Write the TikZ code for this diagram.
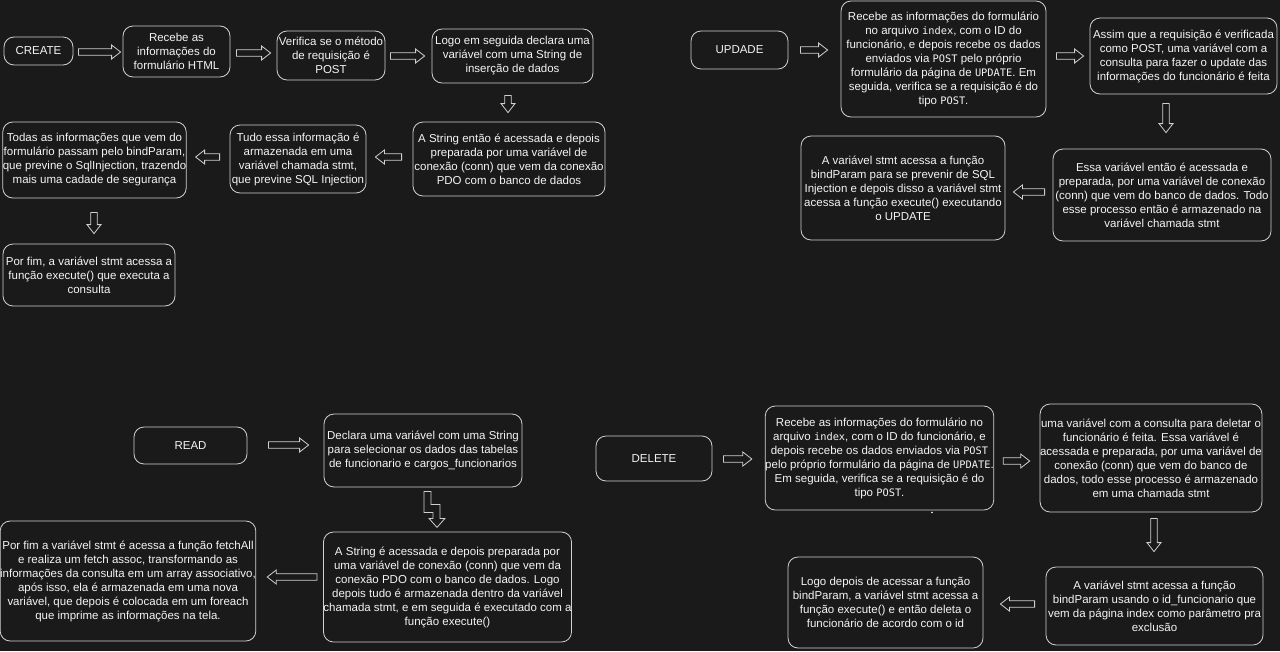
\documentclass[tikz,border=0pt]{standalone}
\usepackage{fontspec}
\setmainfont{Liberation Sans}
\newfontfamily\monof{DejaVu Sans Mono}[Scale=0.9]
\usetikzlibrary{calc}
\definecolor{bgc}{HTML}{1A1A1A}
\definecolor{fgc}{HTML}{F4F4F4}
\definecolor{edgec}{HTML}{D2D2D2}
\definecolor{arrc}{HTML}{CFCFCF}
\newcommand\mytt[1]{{\monof #1}}
\newcommand\bx[6]{\node[box, minimum width={#4-#2}, minimum height={#5-#3}] (#1) at ({(#2+#4)/2},{(#3+#5)/2}) {#6};}
\tikzset{
  box/.style={draw=edgec, line width=0.8pt, rounded corners=10pt, text=fgc, align=center, inner sep=0pt},
  blkline/.style={draw=arrc, line width=0.8pt, line join=miter},
  blk/.style={blkline, to path={
    let \p1=(\tikztostart), \p2=(\tikztotarget),
        \n1={atan2(\y2-\y1,\x2-\x1)}, \n2={veclen(\x2-\x1,\y2-\y1)} in
    ($(\p1)+({\n1+90}:3.3pt)$)
    -- ($(\p1)+(\n1:{\n2-9pt})+({\n1+90}:3.3pt)$)
    -- ($(\p1)+(\n1:{\n2-9pt})+({\n1+90}:7pt)$)
    -- (\p2)
    -- ($(\p1)+(\n1:{\n2-9pt})+({\n1-90}:7pt)$)
    -- ($(\p1)+(\n1:{\n2-9pt})+({\n1-90}:3.3pt)$)
    -- ($(\p1)+({\n1-90}:3.3pt)$) -- cycle}}
}
\begin{document}
\begin{tikzpicture}[x=1pt,y=-1pt,font=\fontsize{11.5}{14}\selectfont]
\fill[bgc] (0,0) rectangle (1280,651);
\useasboundingbox (0,0) rectangle (1280,651);

% CREATE
\bx{create}{4}{37}{73}{65}{CREATE}
\bx{recebe}{123}{26}{230}{77}{Recebe as\\informações do\\formulário HTML}
\bx{verifica}{277}{31}{385}{80}{Verifica se o método\\de requisição é\\POST}
\bx{logo}{432}{29}{593}{83}{Logo em seguida declara uma\\variável com uma String de\\inserção de dados}
\bx{astr}{413}{122}{605}{196}{A String então é acessada e depois\\preparada por uma variável de\\conexão (conn) que vem da conexão\\PDO com o banco de dados}
\bx{tudo}{230}{125}{366}{193}{Tudo essa informação é\\armazenada em uma\\variável chamada stmt,\\que previne SQL Injection}
\bx{todas}{3}{122}{186}{198}{Todas as informações que vem do\\formulário passam pelo bindParam,\\que previne o SqlInjection, trazendo\\mais uma cadade de segurança}
\bx{porfim}{3}{244}{175}{306}{Por fim, a variável stmt acessa a\\função execute() que executa a\\consulta}

\draw[blk] ($(create.east)+(5,1)$) to ($(recebe.west)+(-2,0.5)$);
\draw[blk] ($(recebe.east)+(6,1.5)$) to ($(verifica.west)+(-6,-2.5)$);
\draw[blk] ($(verifica.east)+(5,0.5)$) to ($(logo.west)+(-7,0)$);
\draw[blk] ($(logo.south)+(-4.5,12)$) to ($(astr.north)+(-1,-9)$);
\draw[blk] ($(astr.west)+(-11,-2)$) to ($(tudo.east)+(9,-2)$);
\draw[blk] ($(tudo.west)+(-10,-2)$) to ($(todas.east)+(9,-3)$);
\draw[blk] ($(todas.south)+(-0.5,14)$) to ($(porfim.north)+(5,-10)$);

% UPDATE
\bx{update}{691}{31}{788}{69}{UPDADE}
\bx{urecebe}{841}{1}{1046}{117}{Recebe as informações do formulário\\no arquivo \mytt{index}, com o ID do\\funcionário, e depois recebe os dados\\enviados via \mytt{POST} pelo próprio\\formulário da página de \mytt{UPDATE}. Em\\seguida, verifica se a requisição é do\\tipo \mytt{POST}.}
\bx{assim}{1090}{18}{1277}{94}{Assim que a requisição é verificada\\como POST, uma variável com a\\consulta para fazer o update das\\informações do funcionário é feita}
\bx{essa}{1053}{149}{1271}{241}{Essa variável então é acessada e\\preparada, por uma variável de conexão\\(conn) que vem do banco de dados. Todo\\esse processo então é armazenado na\\variável chamada stmt}
\bx{avar}{801}{136}{1005}{240}{A variável stmt acessa a função\\bindParam para se prevenir de SQL\\Injection e depois disso a variável stmt\\acessa a função execute() executando\\o UPDATE}

\draw[blk] ($(update.east)+(12,0)$) to ($(urecebe.west)+(-13,-9)$);
\draw[blk] ($(urecebe.east)+(10,-3)$) to ($(assim.west)+(-6,0)$);
\draw[blk] ($(assim.south)+(-17.5,9)$) to ($(essa.north)+(4,-16)$);
\draw[blk] ($(essa.west)+(-8,-3)$) to ($(avar.east)+(8,4)$);

% READ
\bx{read}{134}{427}{247}{464}{READ}
\bx{declara}{324}{414}{522}{487}{Declara uma variável com uma String\\para selecionar os dados das tabelas\\de funcionario e cargos\_funcionarios}
\bx{rstr}{324}{532}{571}{642}{A String é acessada e depois preparada por\\uma variável de conexão (conn) que vem da\\conexão PDO com o banco de dados. Logo\\depois tudo é armazenada dentro da variável\\chamada stmt, e em seguida é executado com a\\função execute()}
\bx{rfim}{3}{521}{253}{641}{Por fim a variável stmt é acessa a função fetchAll\\e realiza um fetch assoc, transformando as\\informações da consulta em um array associativo,\\após isso, ela é armazenada em uma nova\\variável, que depois é colocada em um foreach\\que imprime as informações na tela.}

\draw[blk] ($(read.east)+(21,-0.5)$) to ($(declara.west)+(-15,-5.5)$);
\draw[blkline] ($(declara.south)+(1,4)$) -- ++(7,0) -- ++(0,13) -- ++(9,0) -- ++(0,14)
  -- ++(5,0) -- ++(-8,9) -- ++(-8,-9) -- ++(4,0) -- ++(0,-6) -- ++(-9,0) -- cycle;
\draw[blk] ($(rstr.west)+(-6,-10)$) to ($(rfim.east)+(11,-4)$);

% DELETE
\bx{delete}{596}{436}{712}{481}{DELETE}
\bx{drecebe}{766}{406}{993}{510}{Recebe as informações do formulário no\\arquivo \mytt{index}, com o ID do funcionário, e\\depois recebe os dados enviados via \mytt{POST}\\pelo próprio formulário da página de \mytt{UPDATE}.\\Em seguida, verifica se a requisição é do\\tipo \mytt{POST}.}
\bx{duma}{1041}{404}{1261}{512}{uma variável com a consulta para deletar o\\funcionário é feita. Essa variável é\\acessada e preparada, por uma variável de\\conexão (conn) que vem do banco de\\dados, todo esse processo é armazenado\\em uma chamada stmt}
\bx{dvar}{1046}{567}{1263}{645}{A variável stmt acessa a função\\bindParam usando o id\_funcionario que\\vem da página index como parâmetro pra\\exclusão}
\bx{dlogo}{788}{557}{983}{648}{Logo depois de acessar a função\\bindParam, a variável stmt acessa a\\função execute() e então deleta o\\funcionário de acordo com o id}

\draw[blk] ($(delete.east)+(11,0.5)$) to ($(drecebe.west)+(-13,1)$);
\draw[blk] ($(drecebe.east)+(9,3)$) to ($(duma.west)+(-10,3)$);
\draw[blk] ($(duma.south)+(3,6)$) to ($(dvar.north)+(-0.5,-15)$);
\draw[blk] ($(dvar.west)+(-11,-2)$) to ($(dlogo.east)+(17,1.5)$);
\fill[fgc] ($(drecebe.south)+(52.5,2)$) circle (0.9);
\end{tikzpicture}
\end{document}
